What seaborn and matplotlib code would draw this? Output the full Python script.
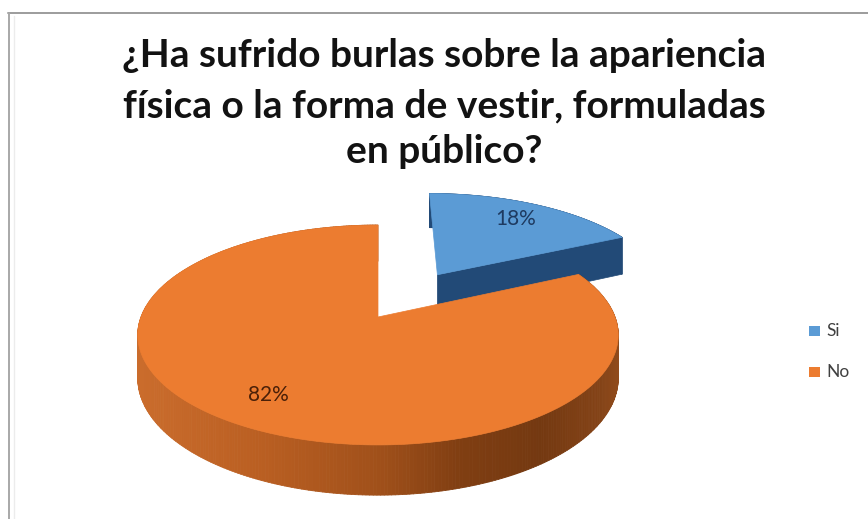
import numpy as np
import matplotlib
matplotlib.use("Agg")
import matplotlib.pyplot as plt
import seaborn as sns
from matplotlib.patches import Polygon, Rectangle
from matplotlib.collections import PolyCollection
from matplotlib.lines import Line2D

# ---- data ----
categories = ["Si", "No"]
values = [18, 82]
title_lines = [
    "¿Ha sufrido burlas sobre la apariencia",
    "física o la forma de vestir, formuladas",
    "en público?",
]

# ---- style ----
sns.set_theme(style="white")
plt.rcParams["font.family"] = ["Lato", "DejaVu Sans"]

top_colors = sns.color_palette(["#5B9BD5", "#EC7C30"])
side_colors = ["#224A77", "#A5561E"]
label_colors = ["#1E3A60", "#4A2008"]
explode = [0.5, 0.0]

# projection of the 3-D disc onto the page (pixel coordinates)
CX, CY = 378.0, 317.0      # pie centre on screen
A, B = 237.0, 107.0        # horizontal / depth radii
K = 0.1636                 # perspective factor
H = 42.0                   # disc thickness
LABEL_R = 0.77


def proj(u, v, h=0.0):
    d = 1.0 + K * np.asarray(v)
    return CX + A * np.asarray(u) / d, CY - B * np.asarray(v) / d + H * h / d


fig = plt.figure(figsize=(8.68, 5.19), dpi=100)
ax = fig.add_axes([0, 0, 1, 1])
ax.set_xlim(0, 868)
ax.set_ylim(519, 0)
ax.axis("off")

# chart frame
ax.add_line(Line2D([8, 868], [13, 13], color="#9c9c9c", lw=1.4))
ax.add_line(Line2D([9, 9], [13, 519], color="#a8a8a8", lw=1.4))
ax.add_line(Line2D([14, 14], [16, 519], color="#ececec", lw=1.0))

# slice angles: clockwise from 12 o'clock
fracs = np.array(values, dtype=float) / np.sum(values)
starts = 90.0 - 360.0 * np.concatenate([[0.0], np.cumsum(fracs)[:-1]])
ends = starts - 360.0 * fracs

side_cmap_x = [140, 260, 380, 460, 540, 600, 620]
side_cmap_rgb = np.array([
    [202, 108, 44],
    [186, 95, 34],
    [160, 80, 26],
    [128, 62, 18],
    [116, 57, 17],
    [132, 67, 23],
    [146, 76, 28],
]) / 255.0

for i in range(len(values)):
    s, e = starts[i], ends[i]
    mid = np.deg2rad((s + e) / 2.0)
    ou, ov = explode[i] * np.cos(mid), explode[i] * np.sin(mid)
    t = np.deg2rad(np.linspace(s, e, 400))
    au, av = ou + np.cos(t), ov + np.sin(t)

    # visible radial cut face (end edge facing the viewer)
    er = np.deg2rad(e)
    if np.cos(er) > 1e-6:
        eu, ev = ou + np.cos(er), ov + np.sin(er)
        xs, ys = [], []
        for (pu, pv, ph) in [(ou, ov, 0), (eu, ev, 0), (eu, ev, 1), (ou, ov, 1)]:
            x, y = proj(pu, pv, ph)
            xs.append(float(x)); ys.append(float(y))
        ax.add_patch(Polygon(np.column_stack([xs, ys]), closed=True,
                             facecolor=side_colors[i], edgecolor=side_colors[i], lw=0.5))

    # curved outer wall as thin strips, shaded left to right
    xt, yt = proj(au, av, 0)
    xb, yb = proj(au, av, 1)
    quads, cols = [], []
    for j in range(len(t) - 1):
        quads.append([(xt[j], yt[j]), (xt[j + 1], yt[j + 1]),
                      (xb[j + 1], yb[j + 1]), (xb[j], yb[j])])
        xm = 0.5 * (xt[j] + xt[j + 1])
        if i == 1:
            c = [np.interp(xm, side_cmap_x, side_cmap_rgb[:, k]) for k in range(3)]
        else:
            c = matplotlib.colors.to_rgb(side_colors[i])
        cols.append(c)
    ax.add_collection(PolyCollection(quads, facecolors=cols, edgecolors=cols, linewidths=0.6))

    # top face
    tu = np.concatenate([[ou], au, [ou]])
    tv = np.concatenate([[ov], av, [ov]])
    fx, fy = proj(tu, tv, 0)
    ax.add_patch(Polygon(np.column_stack([fx, fy]), closed=True,
                         facecolor=top_colors[i], edgecolor=top_colors[i], lw=0.5))

    # percentage label
    lu, lv = ou + LABEL_R * np.cos(mid), ov + LABEL_R * np.sin(mid)
    lx, ly = proj(lu, lv, 0)
    ax.text(float(lx), float(ly), f"{values[i]}%", ha="center", va="center",
            fontsize=15, color=label_colors[i])

# title
for line, yb in zip(title_lines, [67, 117, 163]):
    ax.text(444, yb, line, ha="center", va="baseline", fontsize=28,
            fontweight="bold", color="#121212")

# legend
for i, cat in enumerate(categories):
    yc = 331 + 41 * i
    ax.add_patch(Rectangle((809, yc - 5), 11, 10, facecolor=top_colors[i], edgecolor="none"))
    ax.text(826, yc, cat, ha="left", va="center", fontsize=12.5, color="#404040")

fig.savefig("out.png", dpi=100)
